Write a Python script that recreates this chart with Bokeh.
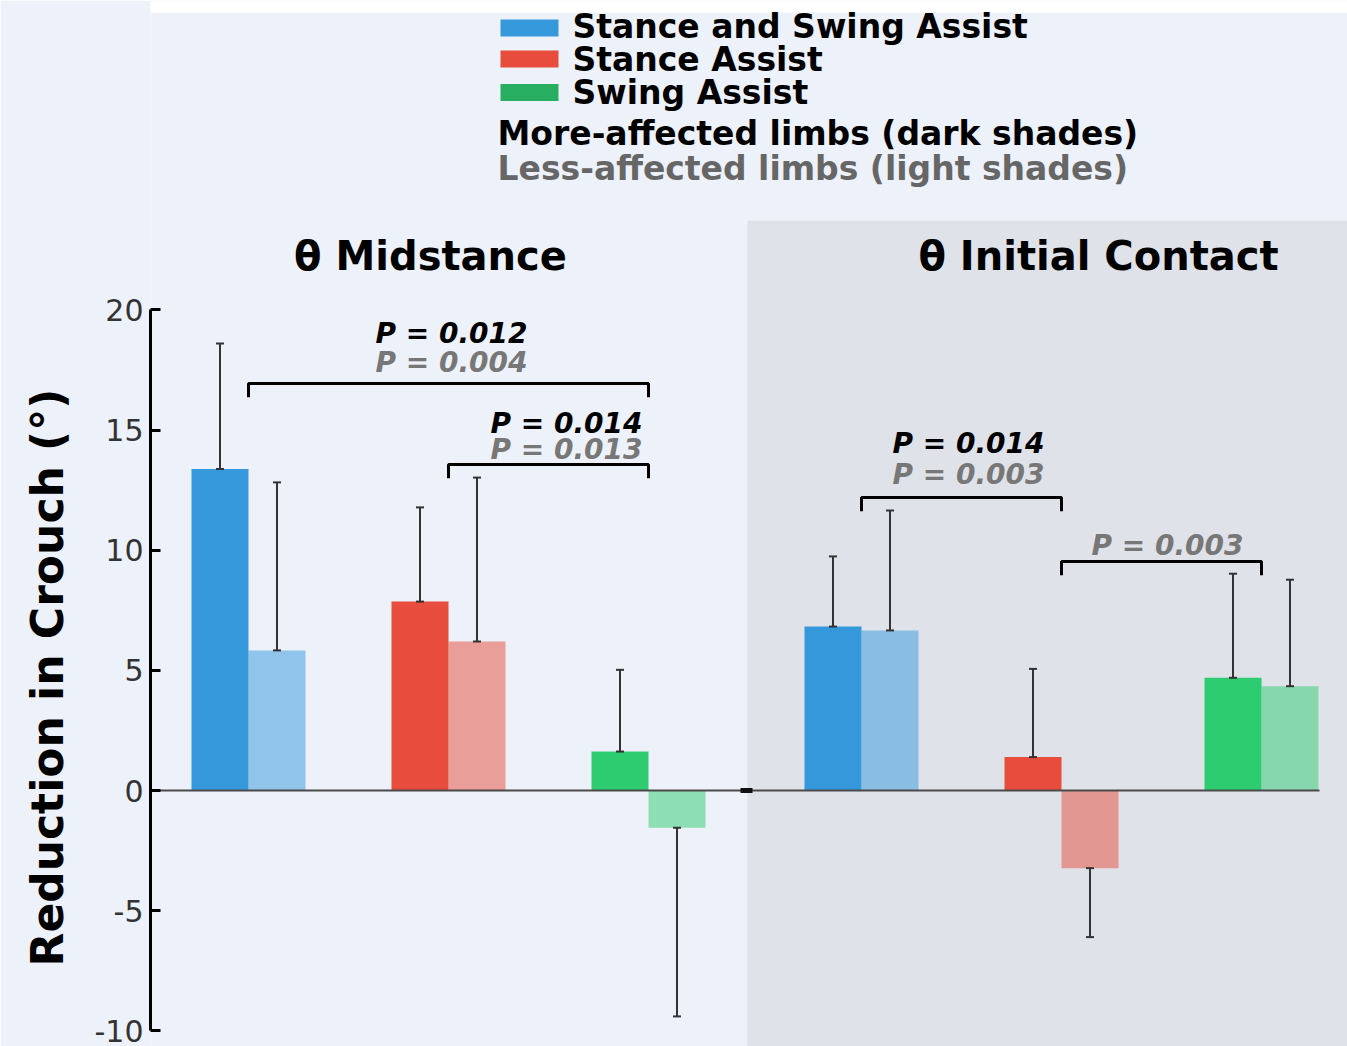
import numpy as np
from bokeh.plotting import figure
from bokeh.models import Range1d, FixedTicker, Title
from bokeh.core.properties import value
from bokeh.embed import file_html
from bokeh.resources import INLINE

# ---------------- data ----------------
conditions = ["Stance and Swing Assist", "Stance Assist", "Swing Assist"]
panels = ["\u03b8 Midstance", "\u03b8 Initial Contact"]
dark_colors = ["#3498db", "#e74c3c", "#2ecc71"]
legend_colors = ["#3498db", "#e74c3c", "#27ae60"]

# Midstance (more-affected = dark, less-affected = light)
mid_more = [13.38, 7.86, 1.62]
mid_more_err = [5.22, 3.92, 3.40]
mid_less = [5.83, 6.20, -1.55]
mid_less_err = [6.99, 6.82, 7.85]
# Initial contact
ic_more = [6.82, 1.39, 4.69]
ic_more_err = [2.92, 3.67, 4.33]
ic_less = [6.66, -3.23, 4.34]
ic_less_err = [4.99, 2.87, 4.43]

# significance brackets (group index pairs, 0-2 midstance, 3-5 initial contact)
comparisons = [(0, 2), (1, 2), (3, 4), (4, 5)]
p_more = ["P = 0.012", "P = 0.014", "P = 0.014", ""]
p_less = ["P = 0.004", "P = 0.013", "P = 0.003", "P = 0.003"]
bracket_y = [16.93, 13.56, 12.19, 9.53]

yticks = [-10, -5, 0, 5, 10, 15, 20]
ytick_labels = {-10: "-10", -5: "-5", 0: "0", 5: "5", 10: "10", 15: "15", 20: "20"}
legend_notes = ["More-affected limbs (dark shades)", "Less-affected limbs (light shades)"]
y_label = "Reduction in Crouch (\u00b0)"

# ---------------- layout helpers ----------------
PPU = 721.0 / 30.0      # pixels per data unit (y)
Y0 = 790.0              # page y of zero
def ydat(py):
    return (Y0 - py) / PPU
def xdat(px):
    return (px - 248.0) / 200.0

PANEL_SHIFT = 3.065
BW = 0.285
centers = [0, 1, 2] + [PANEL_SHIFT + i for i in range(3)]

BG = "#edf1f9"
GRAY = "#dfe2e9"
FONT = value("DejaVu Sans")

p = figure(width=1347, height=1046,
           x_range=Range1d(xdat(150), xdat(1347)),
           y_range=Range1d(ydat(1046), ydat(0)),
           x_axis_type=None, output_backend="svg", toolbar_location=None,
           min_border_left=150, min_border_right=0, min_border_top=0, min_border_bottom=0)
p.background_fill_color = BG
p.border_fill_color = BG
p.outline_line_color = None
p.grid.visible = False

# white strip at top
p.quad(left=xdat(0), right=xdat(1400), bottom=ydat(12), top=ydat(-10), color="white", line_color=None)
# gray panel for initial contact
p.quad(left=xdat(747), right=xdat(1400), bottom=ydat(1100), top=ydat(220), color=GRAY, line_color=None)

# ---------------- bars ----------------
more_vals = mid_more + ic_more
more_errs = mid_more_err + ic_more_err
less_vals = mid_less + ic_less
less_errs = mid_less_err + ic_less_err
cols = dark_colors + dark_colors

xd = [c - BW / 2 for c in centers]
xl = [c + BW / 2 for c in centers]

p.vbar(x=xd, top=more_vals, bottom=0, width=BW, fill_color=cols, line_color=None)
p.vbar(x=xl, top=less_vals, bottom=0, width=BW, fill_color=cols, fill_alpha=0.5, line_color=None)

# zero line
p.segment(x0=[xdat(150)], y0=[0], x1=[xdat(1319)], y1=[0], line_color="#4a4a4a", line_width=2)
p.segment(x0=[xdat(740)], y0=[0], x1=[xdat(752)], y1=[0], line_color="#111111", line_width=5)

# error bars (one-sided, in direction of the bar)
ex, ey0, ey1 = [], [], []
for xs, vals, errs in ((xd, more_vals, more_errs), (xl, less_vals, less_errs)):
    for x, v, e in zip(xs, vals, errs):
        ex.append(x)
        ey0.append(v)
        ey1.append(v + (e if v >= 0 else -e))
CAP = 0.02
p.segment(x0=ex, y0=ey0, x1=ex, y1=ey1, line_color="#333333", line_width=2)
p.segment(x0=[x - CAP for x in ex], y0=ey1, x1=[x + CAP for x in ex], y1=ey1, line_color="#333333", line_width=2)
p.segment(x0=[x - CAP for x in ex], y0=ey0, x1=[x + CAP for x in ex], y1=ey0, line_color="#333333", line_width=2)

# ---------------- brackets & p values ----------------
LEG = 0.57
bxs, bys = [], []
for (a, b), by in zip(comparisons, bracket_y):
    bxs.append([centers[a], centers[a], centers[b], centers[b]])
    bys.append([by - LEG, by, by, by - LEG])
p.multi_line(xs=bxs, ys=bys, line_color="black", line_width=3)

text_dx = [0.015, 0.09, 0.035, 0.03]
more_dy = [2.08, 1.71, 2.25, 0.0]
less_dy = [0.87, 0.62, 0.96, 0.67]
tx, tym, tyl = [], [], []
for (a, b), by, dx, dm, dl in zip(comparisons, bracket_y, text_dx, more_dy, less_dy):
    mx = (centers[a] + centers[b]) / 2 + dx
    tx.append(mx)
    tym.append(by + dm)
    tyl.append(by + dl)
p.text(x=tx, y=tym, text=p_more, text_font=FONT, text_font_style="bold italic",
       text_font_size="28px", text_color="black", text_align="center", text_baseline="middle")
p.text(x=tx, y=tyl, text=p_less, text_font=FONT, text_font_style="bold italic",
       text_font_size="28px", text_color="#777777", text_align="center", text_baseline="middle")

# ---------------- panel titles ----------------
p.text(x=[xdat(430), xdat(1098)], y=[ydat(255), ydat(255)], text=panels, text_font=FONT,
       text_font_style="bold", text_font_size="40px", text_color="black",
       text_align="center", text_baseline="middle")

# ---------------- legend ----------------
row_y = [ydat(27.5), ydat(58.5), ydat(92)]
p.quad(left=[xdat(500)] * 3, right=[xdat(558)] * 3,
       top=[y + 8.5 / PPU for y in row_y], bottom=[y - 8.5 / PPU for y in row_y],
       fill_color=legend_colors, line_color=None)
p.text(x=[xdat(572)] * 3, y=[ydat(26), ydat(59), ydat(92)], text=conditions, text_font=FONT,
       text_font_style="bold", text_font_size="33px", text_color="black",
       text_align="left", text_baseline="middle")
p.text(x=[xdat(497)] * 2, y=[ydat(133), ydat(168)], text=legend_notes, text_font=FONT,
       text_font_style="bold", text_font_size="33px", text_color=["black", "#666666"],
       text_align="left", text_baseline="middle")

# ---------------- y axis ----------------
ax = p.yaxis[0]
ax.ticker = FixedTicker(ticks=yticks)
ax.major_label_overrides = ytick_labels
ax.bounds = (-10, 20)
ax.axis_line_width = 3
ax.axis_line_color = "black"
ax.major_tick_line_width = 3
ax.major_tick_line_color = "black"
ax.major_tick_in = 10
ax.major_tick_out = 0
ax.minor_tick_line_color = None
ax.major_label_text_font = "DejaVu Sans"
ax.major_label_text_font_size = "30px"
ax.major_label_text_color = "#333333"
ax.major_label_standoff = 7

p.add_layout(Title(text=y_label, align="left", offset=80, standoff=37,
                   text_font="DejaVu Sans", text_font_style="bold", text_font_size="44px",
                   text_color="black"), "left")

open("out.html", "w").write(file_html(p, INLINE))
